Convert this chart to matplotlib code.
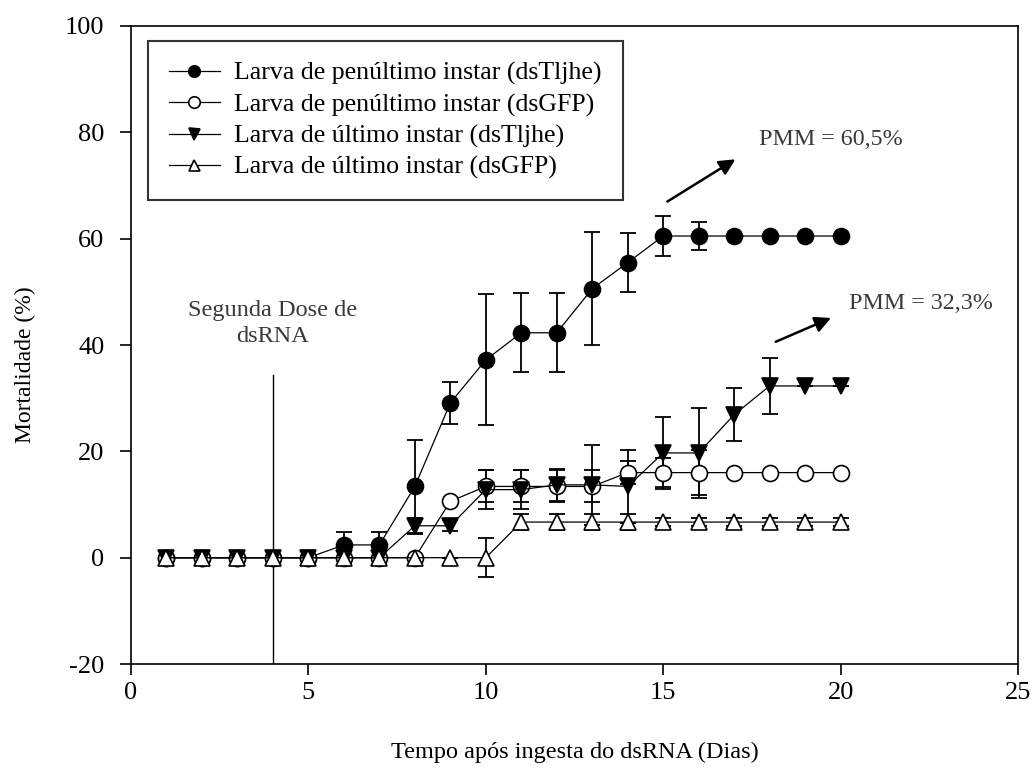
import matplotlib
matplotlib.use("Agg")
import matplotlib.pyplot as plt

plt.rcParams['font.family'] = ['Liberation Serif', 'DejaVu Serif']
plt.rcParams['axes.unicode_minus'] = False

days = list(range(1, 21))

pen_tljhe = [0, 0, 0, 0, 0, 2.4, 2.4, 13.4, 29.1, 37.2, 42.3, 42.3, 50.6, 55.5, 60.5, 60.5, 60.5, 60.5, 60.5, 60.5]
pen_tljhe_err = [0, 0, 0, 0, 0, 2.4, 2.4, 8.8, 4.0, 12.3, 7.4, 7.4, 10.6, 5.6, 3.7, 2.7, 0, 0, 0, 0]

pen_gfp = [0, 0, 0, 0, 0, 0, 0, 0, 10.6, 13.4, 13.4, 13.4, 13.4, 16.0, 16.0, 16.0, 16.0, 16.0, 16.0, 16.0]
pen_gfp_err = [0, 0, 0, 0, 0, 0, 0, 0, 0, 3.0, 3.0, 3.0, 3.0, 2.2, 2.7, 4.3, 0, 0, 0, 0]

ult_tljhe = [0, 0, 0, 0, 0, 0, 0, 6.0, 6.0, 12.8, 12.8, 13.7, 13.7, 13.4, 19.7, 19.7, 26.9, 32.3, 32.3, 32.3]
ult_tljhe_err = [0, 0, 0, 0, 0, 0, 0, 1.5, 1.0, 3.6, 3.6, 3.0, 7.5, 6.9, 6.8, 8.5, 5.0, 5.2, 0, 0]

ult_gfp = [0, 0, 0, 0, 0, 0, 0, 0, 0, 0, 6.7, 6.7, 6.7, 6.7, 6.7, 6.7, 6.7, 6.7, 6.7, 6.7]
ult_gfp_err = [0, 0, 0, 0, 0, 0, 0, 0, 0, 3.7, 1.5, 1.5, 1.5, 1.5, 0.8, 0.8, 0.8, 0.8, 0.8, 0.8]

labels = ["Larva de penúltimo instar (dsTljhe)",
          "Larva de penúltimo instar (dsGFP)",
          "Larva de último instar (dsTljhe)",
          "Larva de último instar (dsGFP)"]

x_ticks = [0, 5, 10, 15, 20, 25]
y_ticks = [-20, 0, 20, 40, 60, 80, 100]

fig = plt.figure(figsize=(10.33, 7.76), dpi=100)
ax = fig.add_axes([0.1268, 0.1443, 0.8587, 0.8222])

series = [
    (pen_tljhe, pen_tljhe_err, dict(marker='o', mfc='black', mec='black', ms=11.5)),
    (pen_gfp, pen_gfp_err, dict(marker='o', mfc='white', mec='black', ms=11.5)),
    (ult_tljhe, ult_tljhe_err, dict(marker='v', mfc='black', mec='black', ms=11)),
    (ult_gfp, ult_gfp_err, dict(marker='^', mfc='white', mec='black', ms=11)),
]

handles = []
for (vals, errs, st), lab in zip(series, labels):
    ax.errorbar(days, vals, yerr=errs, fmt='none', ecolor='black',
                elinewidth=1.3, capsize=6, capthick=1.3, zorder=2)
    h, = ax.plot(days, vals, color='black', lw=0.9, mew=1.2, label=lab, zorder=3, **st)
    handles.append(h)

# second dose marker line
ax.plot([4, 4], [-20, 34.4], color='black', lw=1.0, zorder=1)
ax.text(4.0, 44.1, "Segunda Dose de\ndsRNA", ha='center', va='center',
        fontsize=17.5, color='#3a3a3a', linespacing=1.3)

# PMM annotations
ax.annotate("", xy=(17.1, 75.2), xytext=(15.05, 66.7),
            arrowprops=dict(arrowstyle='-|>', color='black', lw=1.8, mutation_scale=24))
ax.text(17.7, 78.6, "PMM = 60,5%", ha='left', va='center', fontsize=17.3, color='#3a3a3a')
ax.annotate("", xy=(19.8, 45.3), xytext=(18.1, 40.4),
            arrowprops=dict(arrowstyle='-|>', color='black', lw=1.8, mutation_scale=24))
ax.text(20.25, 47.9, "PMM = 32,3%", ha='left', va='center', fontsize=17.3, color='#3a3a3a')

ax.set_xlim(0, 25)
ax.set_ylim(-20, 100)
ax.set_xticks(x_ticks)
ax.set_yticks(y_ticks)
ax.tick_params(axis='both', direction='out', length=8, width=1.2, labelsize=19)
ax.tick_params(axis='x', pad=5)
ax.tick_params(axis='y', pad=11)
ax.tick_params(top=False, right=False)
for s in ax.spines.values():
    s.set_linewidth(1.2)

ax.set_xlabel("Tempo após ingesta do dsRNA (Dias)", fontsize=17.5)
ax.set_ylabel("Mortalidade (%)", fontsize=17)
ax.xaxis.set_label_coords(0.5, -0.138)
ax.yaxis.set_label_coords(-0.119, 0.469)
ax.xaxis.label.set_va('center')
ax.yaxis.label.set_va('center')

leg = ax.legend(handles=handles, loc='upper left', bbox_to_anchor=(0.019, 0.976),
                fontsize=18.6, frameon=True, fancybox=False, edgecolor='black',
                handlelength=2.0, handletextpad=0.55, borderpad=0.8, labelspacing=0.3,
                borderaxespad=0, markerscale=0.72)
leg.get_frame().set_linewidth(1.5)

fig.savefig("out.png", dpi=100)
